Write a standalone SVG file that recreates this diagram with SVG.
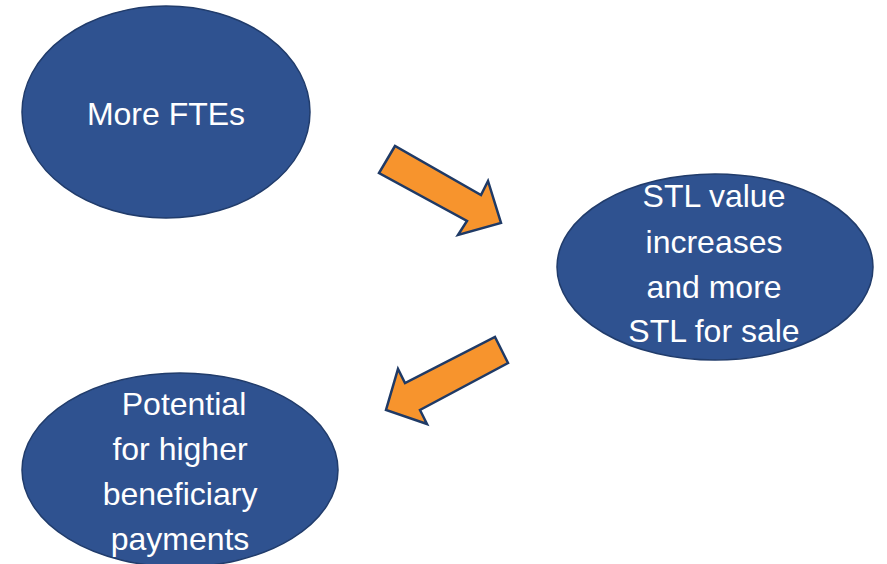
<svg xmlns="http://www.w3.org/2000/svg" width="887" height="564" viewBox="0 0 887 564">
<style>
.node{fill:#2F5290;stroke:#213C6B;stroke-width:1.5}
.lbl{font-family:"Liberation Sans",Arial,sans-serif;font-size:32px;fill:#FFFFFF;text-anchor:middle}
.arr{fill:#F7942D;stroke:#1F3A66;stroke-width:2.5;stroke-linejoin:miter}
</style>
<rect width="887" height="564" fill="#FFFFFF"/>
<g id="node-more-ftes">
<ellipse class="node" cx="166" cy="112" rx="144" ry="106"/>
<text class="lbl" x="166" y="125">More FTEs</text>
</g>
<g id="node-stl">
<ellipse class="node" cx="715" cy="267" rx="158" ry="93"/>
<text class="lbl" x="714" y="207">STL value</text>
<text class="lbl" x="714" y="253">increases</text>
<text class="lbl" x="714" y="298">and more</text>
<text class="lbl" x="714" y="342">STL for sale</text>
</g>
<g id="node-potential">
<ellipse class="node" cx="180" cy="470" rx="158" ry="97"/>
<text class="lbl" x="184" y="415">Potential</text>
<text class="lbl" x="180" y="460">for higher</text>
<text class="lbl" x="180" y="505">beneficiary</text>
<text class="lbl" x="180" y="550">payments</text>
</g>
<g id="connectors">
<polygon class="arr" points="395,146 379,173 467,221 458,235 501,223 488,181 481,195"/>
<polygon class="arr" points="495,337 508,363 420,410 427,424 386,410 398,369 405,383"/>
</g>
</svg>
